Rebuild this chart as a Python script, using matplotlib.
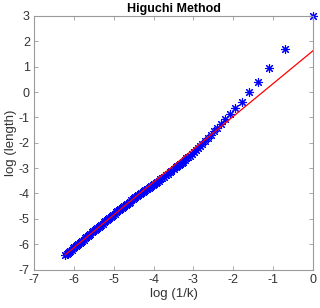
import numpy as np
import matplotlib
matplotlib.use("Agg")
import matplotlib.pyplot as plt

# data: scale k and measured log(length)
k_values = [1, 2, 3, 4, 5, 6, 7, 8, 9, 10, 11, 12, 13, 14, 15, 16, 17, 18, 19, 20,
            21, 22, 23, 24, 25, 26, 27, 28, 29, 30, 31, 33, 35, 36, 38, 40, 42, 44,
            46, 48, 50, 52, 54, 56, 58, 60, 62, 65, 67, 70, 72, 75, 77, 80, 83, 86,
            89, 92, 95, 99, 102, 106, 110, 114, 118, 122, 126, 130, 135, 140, 145,
            150, 155, 160, 165, 171, 177, 183, 189, 196, 203, 210, 217, 225, 232,
            240, 248, 257, 266, 275, 284, 294, 304, 315, 326, 337, 348, 360, 372,
            385, 398, 412, 426, 441, 455, 470, 485, 500]
log_length = [3.00, 1.69, 0.94, 0.40, -0.01, -0.38, -0.63, -0.86, -1.07, -1.25,
              -1.41, -1.55, -1.70, -1.82, -1.95, -2.05, -2.13, -2.22, -2.30, -2.37,
              -2.44, -2.51, -2.57, -2.62, -2.68, -2.74, -2.79, -2.83, -2.88, -2.92,
              -2.96, -3.05, -3.12, -3.16, -3.22, -3.29, -3.34, -3.39, -3.44, -3.49,
              -3.54, -3.59, -3.63, -3.67, -3.71, -3.74, -3.78, -3.84, -3.87, -3.91,
              -3.95, -3.99, -4.02, -4.07, -4.11, -4.15, -4.19, -4.23, -4.27, -4.32,
              -4.36, -4.40, -4.45, -4.50, -4.54, -4.58, -4.62, -4.66, -4.71, -4.75,
              -4.80, -4.84, -4.89, -4.93, -4.97, -5.02, -5.06, -5.10, -5.14, -5.19,
              -5.24, -5.28, -5.32, -5.37, -5.41, -5.46, -5.50, -5.54, -5.59, -5.63,
              -5.68, -5.73, -5.77, -5.82, -5.86, -5.91, -5.95, -5.99, -6.04, -6.08,
              -6.12, -6.17, -6.22, -6.27, -6.31, -6.35, -6.39, -6.43]
fit_slope = 1.295
fit_intercept = 1.63

x_ticks = [-7, -6, -5, -4, -3, -2, -1, 0]
y_ticks = [-7, -6, -5, -4, -3, -2, -1, 0, 1, 2, 3]

plt.rcParams['font.family'] = ['Liberation Sans', 'DejaVu Sans']

fig = plt.figure(figsize=(3.2, 3.08), dpi=100)
ax = fig.add_axes([34/320, 1 - 269.5/308, (313-34)/320, (269.5-16)/308])

x = np.log(1.0 / np.array(k_values, dtype=float))
y = np.array(log_length)

ax.plot(x, y, linestyle='none', marker=(8, 2, 0), markersize=6.5,
        markeredgecolor='#0000ff', markerfacecolor='none', markeredgewidth=0.8,
        clip_on=False, zorder=2)
xf = np.array([x.min(), x.max()])
ax.plot(xf, fit_intercept + fit_slope * xf, color='#ff0000', linewidth=0.9, zorder=3)

ax.set_xlim(-7, 0)
ax.set_ylim(-7, 3)
ax.set_xticks(x_ticks)
ax.set_yticks(y_ticks)
ax.set_xticklabels([str(t) for t in x_ticks])
ax.set_yticklabels([str(t) for t in y_ticks])

gray = '#9a9a9a'
for s in ax.spines.values():
    s.set_color(gray)
    s.set_linewidth(0.8)
ax.tick_params(direction='in', length=3, width=0.6, color=gray,
               labelsize=9, labelcolor='#333333', top=True, right=True, pad=3)

ax.set_title('Higuchi Method', fontsize=9, fontweight='bold', pad=3, color='black')
ax.set_xlabel('log (1/k)', fontsize=9.5, color='#333333', labelpad=2)
ax.set_ylabel('log (length)', fontsize=9.5, color='#333333', labelpad=1)

fig.savefig('out.png', dpi=100)
